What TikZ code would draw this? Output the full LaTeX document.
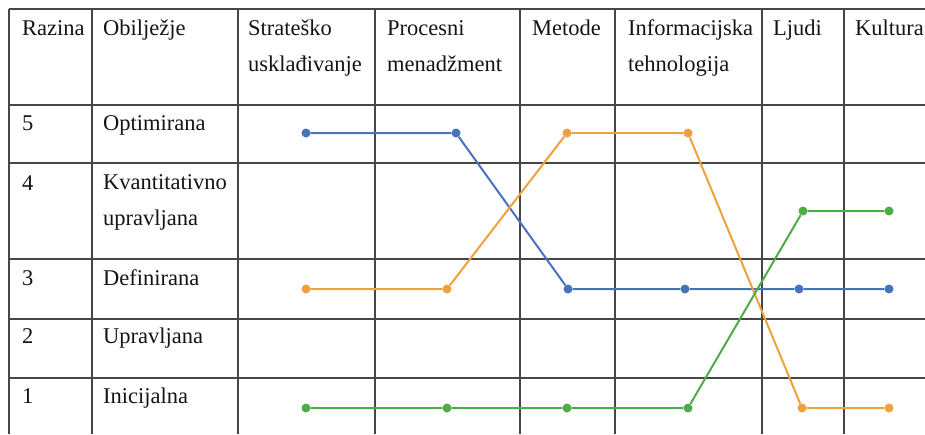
\documentclass[tikz,border=0pt]{standalone}
\usepackage{fontspec}
\setmainfont{Liberation Serif}
\usepackage{tikz}
\usetikzlibrary{positioning}

\definecolor{serblue}{RGB}{70,114,190}
\definecolor{serorange}{RGB}{240,160,62}
\definecolor{sergreen}{RGB}{78,172,72}
\definecolor{gridgray}{RGB}{70,70,70}

\begin{document}
\begin{tikzpicture}[
    x=1pt, y=-1pt,
    % Styles
    gridline/.style={draw=gridgray, line width=1.1pt},
    celltext/.style={anchor=base west, inner sep=0pt, text=black!92, font=\fontsize{22.5}{36}\selectfont, align=left},
    dotblue/.style={circle, fill=serblue, inner sep=0pt, minimum size=9pt},
    dotorange/.style={circle, fill=serorange, inner sep=0pt, minimum size=9pt},
    dotgreen/.style={circle, fill=sergreen, inner sep=0pt, minimum size=9pt},
    lineblue/.style={draw=serblue, line width=2pt},
    lineorange/.style={draw=serorange, line width=2pt},
    linegreen/.style={draw=sergreen, line width=2pt}
]
\useasboundingbox (0,0) rectangle (925,434);

% Table grid
\draw[gridline] (9,9) -- (925,9);
\draw[gridline] (9,105) -- (925,105);
\draw[gridline] (9,163) -- (925,163);
\draw[gridline] (9,259) -- (925,259);
\draw[gridline] (9,319) -- (925,319);
\draw[gridline] (9,378) -- (925,378);
\foreach \xx in {9,92,238,375,520,615,762,844}
    \draw[gridline] (\xx,9) -- (\xx,434);

% Header row (base of a two-line node = last line)
\node[celltext] (hRazina) at (22,35) {Razina};
\node[celltext] (hObiljezje) at (103,35) {Obilježje};
\node[celltext] (hStrat) at (248,71) {Strateško\\usklađivanje};
\node[celltext] (hProces) at (387,71) {Procesni\\menadžment};
\node[celltext] (hMetode) at (532,35) {Metode};
\node[celltext] (hIT) at (628,71) {Informacijska\\tehnologija};
\node[celltext] (hLjudi) at (773,35) {Ljudi};
\node[celltext] (hKultura) at (855,35) {Kultura};

% Levels
\node[celltext] (r5) at (22,130) {5};
\node[celltext] (o5) at (103,130) {Optimirana};
\node[celltext] (r4) at (22,190) {4};
\node[celltext] (o4) at (103,225) {Kvantitativno\\upravljana};
\node[celltext] (r3) at (22,285) {3};
\node[celltext] (o3) at (103,285) {Definirana};
\node[celltext] (r2) at (22,343) {2};
\node[celltext] (o2) at (103,343) {Upravljana};
\node[celltext] (r1) at (22,403) {1};
\node[celltext] (o1) at (103,403) {Inicijalna};

% Blue series
\node[dotblue] (b1) at (306,133) {};
\node[dotblue] (b2) at (456,133) {};
\node[dotblue] (b3) at (568,289) {};
\node[dotblue] (b4) at (685,289) {};
\node[dotblue] (b5) at (799,289) {};
\node[dotblue] (b6) at (889,289) {};
\draw[lineblue] (b1) -- (b2) -- (b3) -- (b4) -- (b5) -- (b6);

% Orange series
\node[dotorange] (o1p) at (306,289) {};
\node[dotorange] (o2p) at (447,289) {};
\node[dotorange] (o3p) at (567,133) {};
\node[dotorange] (o4p) at (688,133) {};
\node[dotorange] (o5p) at (802,408) {};
\node[dotorange] (o6p) at (889,408) {};
\draw[lineorange] (o1p) -- (o2p) -- (o3p) -- (o4p) -- (o5p) -- (o6p);

% Green series
\node[dotgreen] (g1) at (306,408) {};
\node[dotgreen] (g2) at (447,408) {};
\node[dotgreen] (g3) at (567,408) {};
\node[dotgreen] (g4) at (688,408) {};
\node[dotgreen] (g5) at (803,211) {};
\node[dotgreen] (g6) at (889,211) {};
\draw[linegreen] (g1) -- (g2) -- (g3) -- (g4) -- (g5) -- (g6);

\end{tikzpicture}
\end{document}
